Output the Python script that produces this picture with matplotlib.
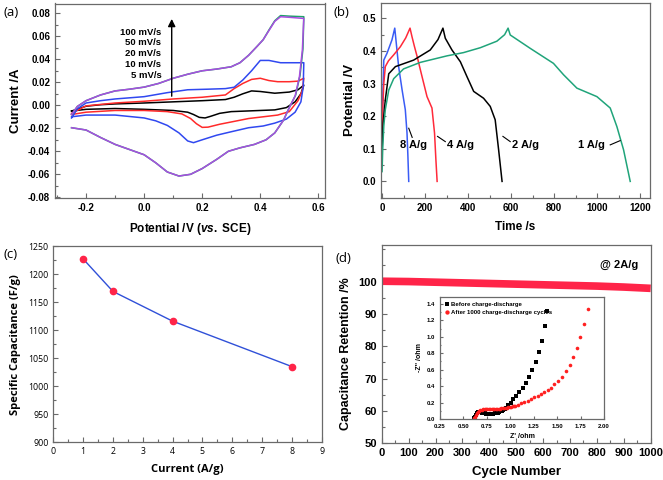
import numpy as np
import matplotlib
matplotlib.use('Agg')
import matplotlib.pyplot as plt
from matplotlib.ticker import MultipleLocator

plt.rcParams['font.family'] = ['Liberation Sans', 'DejaVu Sans']
plt.rcParams['font.weight'] = 'bold'
plt.rcParams['axes.labelweight'] = 'bold'
plt.rcParams['axes.unicode_minus'] = False
plt.rcParams['mathtext.fontset'] = 'custom'
plt.rcParams['mathtext.it'] = 'Liberation Sans:italic:bold'
plt.rcParams['mathtext.rm'] = 'Liberation Sans:bold'

# ---------------- (a) CV curves ----------------
cv_rates = ['100 mV/s', '50 mV/s', '20 mV/s', '10 mV/s', '5 mV/s']

e5_fwd = [-0.25, -0.2, -0.15, -0.1, 0.0, 0.1, 0.2, 0.28, 0.31, 0.34, 0.37, 0.40, 0.45, 0.50, 0.53, 0.55]
i5_fwd = [-0.005, -0.0008, 0.0005, 0.0012, 0.002, 0.003, 0.004, 0.005, 0.007, 0.010, 0.0125, 0.012, 0.0105, 0.0115, 0.0135, 0.0175]
e5_back = [0.55, 0.54, 0.52, 0.49, 0.45, 0.40, 0.35, 0.30, 0.26, 0.23, 0.21, 0.19, 0.17, 0.15, 0.10, 0.0, -0.1, -0.2, -0.25]
i5_back = [0.0175, 0.010, 0.003, -0.002, -0.004, -0.0045, -0.005, -0.0055, -0.007, -0.0095, -0.011, -0.0105, -0.008, -0.006, -0.0045, -0.0035, -0.0028, -0.0035, -0.005]

e10_fwd = [-0.25, -0.2, -0.1, 0.0, 0.1, 0.2, 0.28, 0.31, 0.34, 0.37, 0.40, 0.43, 0.46, 0.50, 0.53, 0.55]
i10_fwd = [-0.007, -0.0005, 0.002, 0.0035, 0.0055, 0.007, 0.009, 0.0145, 0.019, 0.0225, 0.0235, 0.0215, 0.0205, 0.0205, 0.021, 0.0235]
e10_back = [0.55, 0.545, 0.53, 0.50, 0.46, 0.41, 0.36, 0.31, 0.26, 0.22, 0.20, 0.18, 0.16, 0.13, 0.08, 0.0, -0.1, -0.2, -0.25]
i10_back = [0.0235, 0.013, 0.004, -0.0055, -0.0085, -0.0100, -0.0115, -0.014, -0.0165, -0.019, -0.0192, -0.016, -0.0115, -0.0075, -0.0055, -0.0045, -0.0045, -0.006, -0.008]

e20_fwd = [-0.25, -0.23, -0.2, -0.15, -0.1, 0.0, 0.08, 0.15, 0.22, 0.28, 0.31, 0.34, 0.37, 0.40, 0.43, 0.47, 0.52, 0.55]
i20_fwd = [-0.011, -0.003, 0.002, 0.004, 0.0055, 0.0075, 0.011, 0.0135, 0.014, 0.0145, 0.0157, 0.022, 0.030, 0.039, 0.039, 0.037, 0.037, 0.037]
e20_back = [0.55, 0.548, 0.54, 0.52, 0.49, 0.45, 0.41, 0.36, 0.30, 0.25, 0.20, 0.17, 0.15, 0.12, 0.08, 0.04, 0.0, -0.1, -0.2, -0.25]
i20_back = [0.037, 0.016, 0.003, -0.006, -0.012, -0.0155, -0.018, -0.0195, -0.023, -0.026, -0.030, -0.0325, -0.031, -0.024, -0.0175, -0.0135, -0.011, -0.0085, -0.0085, -0.010]

e50_fwd = [-0.25, -0.23, -0.2, -0.15, -0.1, -0.05, 0.0, 0.05, 0.1, 0.15, 0.2, 0.25, 0.3, 0.33, 0.36, 0.39, 0.41, 0.43, 0.45, 0.47, 0.5, 0.55]
i50_fwd = [-0.008, -0.001, 0.004, 0.009, 0.0125, 0.014, 0.0158, 0.019, 0.0235, 0.027, 0.030, 0.0315, 0.0335, 0.037, 0.0435, 0.0515, 0.057, 0.0655, 0.0735, 0.078, 0.0775, 0.077]
e50_back = [0.55, 0.547, 0.537, 0.522, 0.50, 0.48, 0.45, 0.42, 0.38, 0.33, 0.29, 0.25, 0.2, 0.16, 0.12, 0.08, 0.04, 0.0, -0.05, -0.1, -0.15, -0.2, -0.25]
i50_back = [0.077, 0.049, 0.026, 0.009, -0.002, -0.013, -0.024, -0.030, -0.034, -0.037, -0.040, -0.047, -0.055, -0.060, -0.0615, -0.058, -0.050, -0.043, -0.0385, -0.034, -0.028, -0.0215, -0.0195]

e100_fwd = [-0.25, -0.23, -0.2, -0.15, -0.1, -0.05, 0.0, 0.05, 0.1, 0.15, 0.2, 0.25, 0.3, 0.33, 0.36, 0.39, 0.41, 0.43, 0.45, 0.47, 0.5, 0.55]
i100_fwd = [-0.008, -0.001, 0.004, 0.009, 0.0125, 0.014, 0.0158, 0.019, 0.0235, 0.027, 0.030, 0.0315, 0.0335, 0.037, 0.0435, 0.0515, 0.057, 0.065, 0.073, 0.077, 0.0765, 0.0755]
e100_back = [0.55, 0.545, 0.535, 0.52, 0.50, 0.48, 0.45, 0.42, 0.38, 0.33, 0.29, 0.25, 0.2, 0.16, 0.12, 0.08, 0.04, 0.0, -0.05, -0.1, -0.15, -0.2, -0.25]
i100_back = [0.0755, 0.048, 0.025, 0.008, -0.002, -0.013, -0.024, -0.030, -0.034, -0.037, -0.040, -0.047, -0.055, -0.060, -0.0615, -0.058, -0.050, -0.043, -0.0385, -0.034, -0.028, -0.0215, -0.0195]

# ---------------- (b) GCD curves ----------------
t_8 = [0, 3, 8, 23, 46, 59, 66, 77, 93, 108, 116, 120, 124]
v_8 = [0.10, 0.25, 0.372, 0.393, 0.434, 0.47, 0.424, 0.352, 0.281, 0.22, 0.148, 0.08, 0.0]
t_4 = [0, 3, 8, 15, 30, 54, 85, 110, 130, 139, 150, 163, 186, 209, 232, 244, 250, 256]
v_4 = [0.15, 0.22, 0.30, 0.352, 0.37, 0.388, 0.413, 0.44, 0.47, 0.444, 0.415, 0.383, 0.321, 0.26, 0.225, 0.148, 0.07, 0.0]
t_2 = [0, 5, 15, 31, 62, 147, 224, 260, 283, 294, 325, 364, 395, 426, 472, 503, 526, 542, 558]
v_2 = [0.10, 0.18, 0.25, 0.33, 0.352, 0.372, 0.403, 0.435, 0.47, 0.439, 0.403, 0.367, 0.321, 0.276, 0.255, 0.23, 0.189, 0.097, 0.0]
t_1 = [0, 3, 8, 15, 31, 54, 100, 178, 302, 379, 457, 534, 570, 586, 596, 689, 797, 844, 906, 999, 1061, 1092, 1123, 1154]
v_1 = [0.03, 0.10, 0.17, 0.22, 0.28, 0.315, 0.345, 0.365, 0.385, 0.395, 0.41, 0.43, 0.45, 0.47, 0.449, 0.408, 0.362, 0.327, 0.286, 0.260, 0.225, 0.168, 0.097, 0.0]

# ---------------- (c) rate capability ----------------
current = [1, 2, 4, 8]
capacitance = [1227, 1169, 1116, 1035]

# ---------------- (d) cycling + EIS ----------------
cycles = [0, 100, 200, 300, 400, 500, 600, 700, 800, 900, 1000]
retention = [100.1, 100.0, 99.8, 99.6, 99.4, 99.2, 99.0, 98.8, 98.6, 98.3, 97.9]

z_re_before = [0.61, 0.615, 0.625, 0.635, 0.645, 0.655, 0.67, 0.685, 0.70, 0.715, 0.73, 0.745, 0.76, 0.775,
               0.79, 0.805, 0.82, 0.835, 0.85, 0.865, 0.88, 0.895, 0.91, 0.925, 0.94, 0.955, 0.975, 1.003,
               1.034, 1.062, 1.097, 1.132, 1.167, 1.202, 1.237, 1.272, 1.307, 1.342, 1.37, 1.395]
z_im_before = [0.0, 0.012, 0.03, 0.05, 0.068, 0.08, 0.087, 0.085, 0.079, 0.073, 0.069, 0.066, 0.064, 0.063,
               0.063, 0.064, 0.066, 0.069, 0.073, 0.078, 0.085, 0.093, 0.102, 0.112, 0.123, 0.138, 0.165, 0.198,
               0.239, 0.28, 0.329, 0.383, 0.444, 0.514, 0.598, 0.699, 0.813, 0.955, 1.126, 1.32]
z_re_after = [0.61, 0.615, 0.625, 0.635, 0.645, 0.655, 0.665, 0.68, 0.695, 0.71, 0.725, 0.74, 0.755, 0.77,
              0.785, 0.80, 0.815, 0.83, 0.845, 0.86, 0.875, 0.89, 0.905, 0.92, 0.935, 0.95, 0.965, 0.98,
              0.995, 1.01, 1.025, 1.04, 1.055, 1.079, 1.114, 1.15, 1.186, 1.221, 1.256, 1.293, 1.328, 1.363,
              1.4, 1.435, 1.47, 1.513, 1.555, 1.595, 1.637, 1.673, 1.709, 1.744, 1.787, 1.826]
z_im_after = [0.0, 0.012, 0.03, 0.05, 0.068, 0.082, 0.094, 0.105, 0.113, 0.118, 0.121, 0.123, 0.124, 0.125,
              0.125, 0.125, 0.125, 0.125, 0.125, 0.125, 0.126, 0.127, 0.128, 0.13, 0.132, 0.135, 0.138, 0.141,
              0.145, 0.149, 0.153, 0.157, 0.162, 0.171, 0.191, 0.204, 0.223, 0.244, 0.264, 0.28, 0.301, 0.326,
              0.354, 0.382, 0.423, 0.467, 0.516, 0.585, 0.659, 0.752, 0.862, 1.004, 1.159, 1.341]

spine_col = '#6a6a6a'


def style_axes(ax, fs):
    for s in ax.spines.values():
        s.set_color(spine_col)
        s.set_linewidth(0.9)
    ax.tick_params(which='both', direction='in', colors=spine_col, labelcolor='black',
                   labelsize=fs, width=0.8)
    ax.tick_params(which='major', length=3.5)
    ax.tick_params(which='minor', length=2)
    for t in ax.get_xticklabels() + ax.get_yticklabels():
        t.set_fontweight('bold')


fig = plt.figure(figsize=(6.63, 4.8), dpi=100)

# (a)
ax_a = fig.add_axes([55 / 663, 1 - 198 / 480, 270 / 663, 194.5 / 480])
cv_sets = [
    (e5_fwd + e5_back, i5_fwd + i5_back, 'black'),
    (e10_fwd + e10_back, i10_fwd + i10_back, '#ff2a2a'),
    (e20_fwd + e20_back, i20_fwd + i20_back, '#3048f0'),
    (e50_fwd + e50_back, i50_fwd + i50_back, '#1fa06a'),
    (e100_fwd + e100_back, i100_fwd + i100_back, '#a84ee0'),
]
for e, i, c in cv_sets:
    ax_a.plot(e, i, color=c, lw=1.1)
ax_a.set_xlim(-0.307, 0.623)
ax_a.set_ylim(-0.0806, 0.0885)
ax_a.xaxis.set_major_locator(MultipleLocator(0.2))
ax_a.xaxis.set_minor_locator(MultipleLocator(0.1))
ax_a.yaxis.set_major_locator(MultipleLocator(0.02))
ax_a.yaxis.set_minor_locator(MultipleLocator(0.01))
ax_a.xaxis.set_major_formatter(plt.FormatStrFormatter('%.1f'))
ax_a.yaxis.set_major_formatter(plt.FormatStrFormatter('%.2f'))
style_axes(ax_a, 7)
ax_a.set_xlabel(r'Potential /V ($\mathit{vs.}$ SCE)', fontsize=8.5, labelpad=6)
ax_a.set_ylabel('Current /A', fontsize=9.5, labelpad=4)
for k, lab in enumerate(cv_rates):
    ax_a.text(0.059, 0.0635 - k * 0.0093, lab, ha='right', va='center', fontsize=6.8)
ax_a.annotate('', xy=(0.095, 0.0775), xytext=(0.095, 0.0055),
              arrowprops=dict(arrowstyle='-|>', color='black', lw=1.0, mutation_scale=11))
fig.text(3 / 663, 1 - 13 / 480, '(a)', fontsize=9.5, fontweight='normal', family='Open Sans', va='center')

# (b)
ax_b = fig.add_axes([381 / 663, 1 - 197.7 / 480, 269 / 663, 195 / 480])
ax_b.plot(t_8, v_8, color='#3a5cf5', lw=1.1)
ax_b.plot(t_4, v_4, color='#ff2a3a', lw=1.1)
ax_b.plot(t_2, v_2, color='black', lw=1.1)
ax_b.plot(t_1, v_1, color='#20a47a', lw=1.1)
ax_b.set_xlim(-5, 1246)
ax_b.set_ylim(-0.05, 0.548)
ax_b.xaxis.set_major_locator(MultipleLocator(200))
ax_b.xaxis.set_minor_locator(MultipleLocator(100))
ax_b.yaxis.set_major_locator(MultipleLocator(0.1))
ax_b.yaxis.set_minor_locator(MultipleLocator(0.05))
ax_b.yaxis.set_major_formatter(plt.FormatStrFormatter('%.1f'))
style_axes(ax_b, 7)
ax_b.set_xlabel('Time /s', fontsize=8.5, labelpad=6)
ax_b.set_ylabel('Potential /V', fontsize=9.5, labelpad=5)
gcd_labels = [('8 A/g', 85, (124, 0.163), (140, 0.135)),
              ('4 A/g', 302, (258, 0.138), (294, 0.122)),
              ('2 A/g', 604, (562, 0.138), (596, 0.122)),
              ('1 A/g', 913, (1107, 0.125), (1061, 0.112))]
for lab, x0, p1, p2 in gcd_labels:
    ax_b.text(x0, 0.112, lab, ha='left', va='center', fontsize=8)
    ax_b.plot([p1[0], p2[0]], [p1[1], p2[1]], color='black', lw=0.8)
fig.text(333 / 663, 1 - 13 / 480, '(b)', fontsize=9.5, fontweight='normal', family='Open Sans', va='center')

# (c)
ax_c = fig.add_axes([53.3 / 663, 1 - 442.3 / 480, 268.4 / 663, 196.3 / 480])
ax_c.plot(current, capacitance, color='#3050d8', lw=1.0, marker='o', ms=4.5,
          mfc='#ff2448', mec='#ff2448')
ax_c.set_xlim(0, 9)
ax_c.set_ylim(900, 1250)
ax_c.xaxis.set_major_locator(MultipleLocator(1))
ax_c.xaxis.set_minor_locator(MultipleLocator(0.5))
ax_c.yaxis.set_major_locator(MultipleLocator(50))
ax_c.yaxis.set_minor_locator(MultipleLocator(25))
style_axes(ax_c, 6.3)
for t in ax_c.get_xticklabels() + ax_c.get_yticklabels():
    t.set_family('Open Sans')
    t.set_fontweight('normal')
ax_c.set_xlabel('Current (A/g)', fontsize=8, family='Open Sans', fontweight='bold', labelpad=6)
ax_c.set_ylabel('Specific Capacitance (F/g)', fontsize=8, family='Open Sans', fontweight='bold', labelpad=5)
fig.text(3 / 663, 1 - 254 / 480, '(c)', fontsize=9.5, fontweight='normal', family='Open Sans', va='center')

# (d)
ax_d = fig.add_axes([381.7 / 663, 1 - 443.3 / 480, 269 / 663, 198.3 / 480])
ax_d.plot(cycles, retention, color='#ff2448', lw=5.5, solid_capstyle='butt')
ax_d.set_xlim(0, 1000)
ax_d.set_ylim(50, 111.3)
ax_d.xaxis.set_major_locator(MultipleLocator(100))
ax_d.xaxis.set_minor_locator(MultipleLocator(50))
ax_d.yaxis.set_major_locator(MultipleLocator(10))
ax_d.yaxis.set_minor_locator(MultipleLocator(5))
ax_d.set_yticks([50, 60, 70, 80, 90, 100])
style_axes(ax_d, 8)
ax_d.set_xlabel('Cycle Number', fontsize=9.5, labelpad=6)
ax_d.set_ylabel('Capacitance Retention /%', fontsize=9)
ax_d.yaxis.set_label_coords(-0.112, 0.45)
ax_d.text(953, 105.2, '@ 2A/g', ha='right', va='center', fontsize=8)
fig.text(335 / 663, 1 - 259 / 480, '(d)', fontsize=9.5, fontweight='normal', family='Open Sans', va='center')

# inset
ax_in = fig.add_axes([440 / 663, 1 - 419 / 480, 164 / 663, 122 / 480])
ax_in.plot(z_re_before, z_im_before, 's', color='black', ms=2.2, mew=0, label='Before charge-discharge')
ax_in.plot(z_re_after, z_im_after, 'o', color='#ff2020', ms=2.6, mew=0, label='After 1000 charge-discharge cycles')
ax_in.set_xlim(0.25, 2.0)
ax_in.set_ylim(0, 1.485)
ax_in.xaxis.set_major_locator(MultipleLocator(0.25))
ax_in.yaxis.set_major_locator(MultipleLocator(0.2))
ax_in.yaxis.set_minor_locator(MultipleLocator(0.1))
ax_in.xaxis.set_major_formatter(plt.FormatStrFormatter('%.2f'))
ax_in.yaxis.set_major_formatter(plt.FormatStrFormatter('%.1f'))
style_axes(ax_in, 4.3)
ax_in.tick_params(which='major', length=2)
ax_in.tick_params(which='minor', length=1)
ax_in.set_xlabel("Z' /ohm", fontsize=5, labelpad=3)
ax_in.set_ylabel("-Z'' /ohm", fontsize=5, labelpad=3)
ax_in.legend(loc='upper left', fontsize=4.3, frameon=False, handletextpad=0.3,
             borderaxespad=0.4, labelspacing=0.5, handlelength=0.8, markerscale=1.2)

fig.savefig('out.png', dpi=100)
